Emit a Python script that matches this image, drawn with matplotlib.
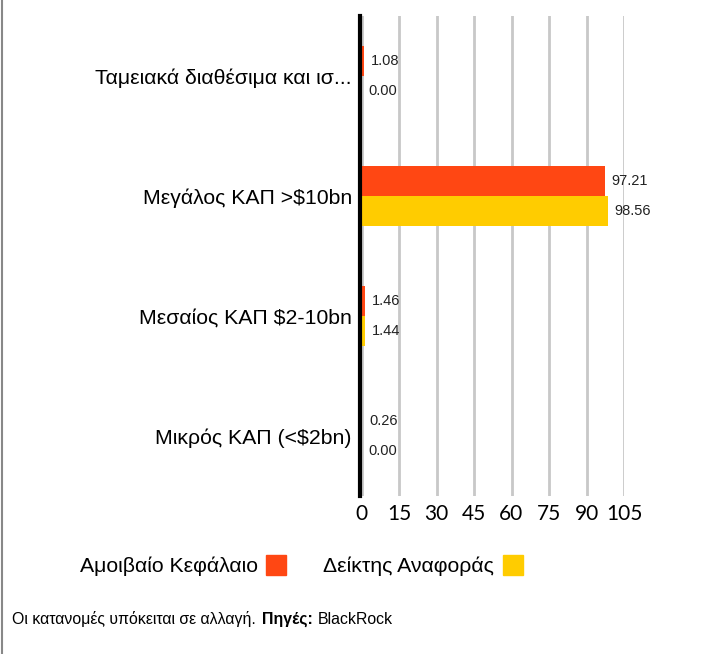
import matplotlib.pyplot as plt
from matplotlib.lines import Line2D
from matplotlib.patches import Rectangle

categories = ["Ταμειακά διαθέσιμα και ισ...", "Μεγάλος ΚΑΠ >$10bn",
              "Μεσαίος ΚΑΠ $2-10bn", "Μικρός ΚΑΠ (<$2bn)"]
fund = [1.08, 97.21, 1.46, 0.26]
benchmark = [0.00, 98.56, 1.44, 0.00]
series_names = ["Αμοιβαίο Κεφάλαιο", "Δείκτης Αναφοράς"]
ticks = [0, 15, 30, 45, 60, 75, 90, 105]

orange = "#FF4713"
yellow = "#FFCC00"

plt.rcParams['font.family'] = ['Liberation Sans', 'DejaVu Sans']

fig = plt.figure(figsize=(7.22, 6.54), dpi=100)
W, H = 722, 654
ax = fig.add_axes([361.5 / W, 1 - 496 / H, (624 - 361.5) / W, 480 / H])

# spine first, moving it resets the tick labels
for s in ['top', 'right', 'bottom']:
    ax.spines[s].set_visible(False)
ax.spines['left'].set_position(('outward', 1))
ax.spines['left'].set_linewidth(3)
ax.spines['left'].set_color('black')
ax.spines['left'].set_zorder(5)

n = len(categories)
ys = list(range(n))
bh = 0.25
ax.barh([y - bh / 2 for y in ys], fund, height=bh, color=orange, zorder=3)
ax.barh([y + bh / 2 for y in ys], benchmark, height=bh, color=yellow, zorder=3)

for y, v in zip(ys, fund):
    ax.annotate(f"{v:.2f}", (v, y - bh / 2), xytext=(5, 0), textcoords="offset points",
                va="center", ha="left", fontsize=10.5, color="#222222")
for y, v in zip(ys, benchmark):
    ax.annotate(f"{v:.2f}", (v, y + bh / 2), xytext=(5, 0), textcoords="offset points",
                va="center", ha="left", fontsize=10.5, color="#222222")

ax.set_ylim(n - 0.5, -0.5)
ax.set_xlim(0, 105)
ax.set_yticks(ys)
ax.set_yticklabels(categories, fontsize=15.3)
ax.set_xticks(ticks)
ax.set_xticklabels([str(t) for t in ticks], fontsize=15, family=['Lato', 'DejaVu Sans'])
ax.tick_params(axis='both', length=0)
ax.tick_params(axis='y', pad=6)
ax.tick_params(axis='x', pad=6)
ax.grid(axis='x', color='#c8c8c8', linewidth=2, zorder=0)

# legend
fig.text(80 / W, 1 - 566 / H, series_names[0], fontsize=15.3, va='center', ha='left')
fig.add_artist(Rectangle((266 / W, 1 - 575 / H), 20 / W, 20 / H, color=orange,
                         transform=fig.transFigure))
fig.text(323 / W, 1 - 566 / H, series_names[1], fontsize=15.3, va='center', ha='left')
fig.add_artist(Rectangle((503 / W, 1 - 575 / H), 20 / W, 20 / H, color=yellow,
                         transform=fig.transFigure))

# footnote
fig.text(12 / W, 1 - 619 / H, "Οι κατανομές υπόκειται σε αλλαγή.", fontsize=11.4,
         va='center', ha='left')
fig.text(262 / W, 1 - 619 / H, "Πηγές:", fontsize=11.4, fontweight='bold',
         va='center', ha='left')
fig.text(318 / W, 1 - 619 / H, "BlackRock", fontsize=11.4, va='center', ha='left')

# page border
fig.add_artist(Line2D([1.5 / W, 1.5 / W], [0, 1], color='#888888', linewidth=1.5,
                      transform=fig.transFigure))

fig.savefig("out.png", dpi=100)
